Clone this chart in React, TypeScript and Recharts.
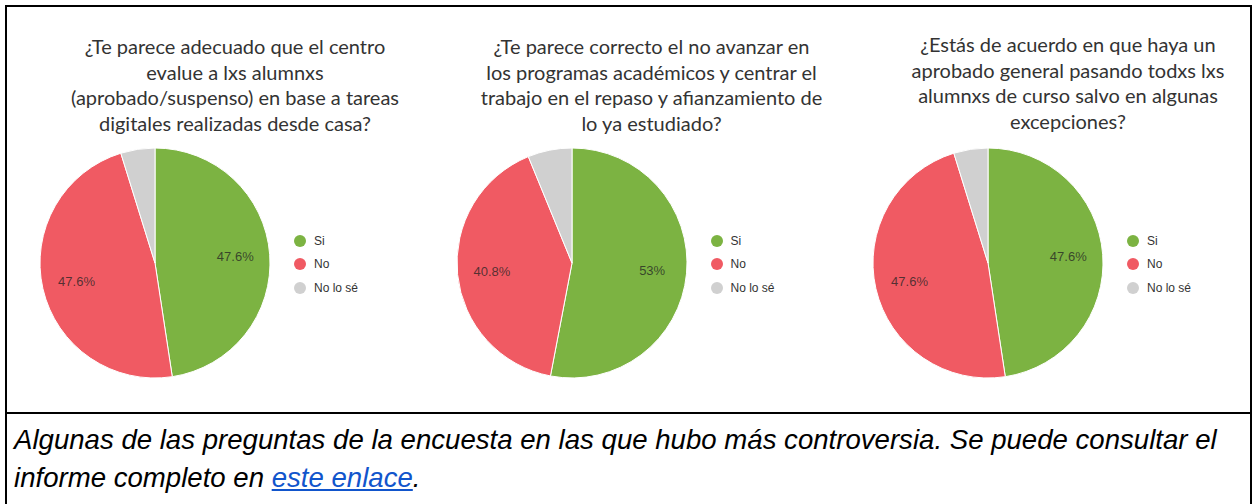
import React from "react";
import { PieChart, Pie, Cell, Legend } from "recharts";

const categories = ["Si", "No", "No lo sé"];
const colors = ["#7cb342", "#f05a63", "#d0d0d0"];

const q1Title = [
  "¿Te parece adecuado que el centro",
  "evalue a lxs alumnxs",
  "(aprobado/suspenso) en base a tareas",
  "digitales realizadas desde casa?",
];
const q1Values = [47.6, 47.6, 4.8];

const q2Title = [
  "¿Te parece correcto el no avanzar en",
  "los programas académicos y centrar el",
  "trabajo en el repaso y afianzamiento de",
  "lo ya estudiado?",
];
const q2Values = [53, 40.8, 6.2];

const q3Title = [
  "¿Estás de acuerdo en que haya un",
  "aprobado general pasando todxs lxs",
  "alumnxs de curso salvo en algunas",
  "excepciones?",
];
const q3Values = [47.6, 47.6, 4.8];

const captionLine1 =
  "Algunas de las preguntas de la encuesta en las que hubo más controversia. Se puede consultar el";
const captionLine2 = "informe completo en ";
const linkText = "este enlace";

const RAD = Math.PI / 180;

// percentage label inside the slice, like the google chart
const sliceLabel = (p: any) => {
  if (p.value < 10) return null;
  const r = p.outerRadius * 0.7;
  const x = p.cx + r * Math.cos(-p.midAngle * RAD);
  const y = p.cy + r * Math.sin(-p.midAngle * RAD);
  return (
    <text
      x={x}
      y={y}
      textAnchor="middle"
      dominantBaseline="central"
      fill="#222"
      fillOpacity={0.75}
      fontSize={13}
      fontFamily="Arial, 'Liberation Sans', sans-serif"
    >
      {p.value + "%"}
    </text>
  );
};

const legendContent = () => (
  <div style={{ fontFamily: "Arial, 'Liberation Sans', sans-serif", fontSize: 12, color: "#333" }}>
    {categories.map((c, i) => (
      <div key={c} style={{ display: "flex", alignItems: "center", height: 23.5 }}>
        <span
          style={{
            width: 12,
            height: 12,
            borderRadius: 6,
            background: colors[i],
            display: "inline-block",
            marginRight: 8,
          }}
        />
        {c}
      </div>
    ))}
  </div>
);

function SurveyPie({ title, values, left, titleTop }: { title: string[]; values: number[]; left: number; titleTop: number }) {
  const data = categories.map((name, i) => ({ name, value: values[i] }));
  return (
    <div style={{ position: "absolute", left, top: 8, width: 416, height: 400 }}>
      <div
        style={{
          position: "absolute",
          left: -20,
          width: 496,
          top: titleTop,
          textAlign: "center",
          fontFamily: "Lato, 'Open Sans', sans-serif",
          fontSize: 20,
          lineHeight: "25.5px",
          color: "#333",
          whiteSpace: "nowrap",
        }}
      >
        {title.map((t) => (
          <div key={t}>{t}</div>
        ))}
      </div>
      <PieChart width={416} height={400} margin={{ top: 0, right: 0, bottom: 0, left: 0 }}>
        <Pie
          data={data}
          dataKey="value"
          nameKey="name"
          cx={148}
          cy={255}
          outerRadius={115}
          startAngle={90}
          endAngle={-270}
          stroke="#fff"
          strokeWidth={1}
          label={sliceLabel}
          labelLine={false}
          isAnimationActive={false}
        >
          {data.map((d, i) => (
            <Cell key={d.name} fill={colors[i]} />
          ))}
        </Pie>
        <Legend
          content={legendContent}
          wrapperStyle={{ position: "absolute", left: 287, top: 221, width: 120 }}
        />
      </PieChart>
    </div>
  );
}

export default function App() {
  return (
    <div style={{ position: "absolute", left: 0, top: 0, width: 1253, height: 504, background: "#fff", overflow: "hidden" }}>
      <div
        style={{
          position: "absolute",
          left: 5,
          top: 5,
          width: 1247,
          height: 520,
          border: "2px solid #000",
          boxSizing: "border-box",
        }}
      />
      <div style={{ position: "absolute", left: 5, top: 412, width: 1247, height: 2, background: "#000" }} />
      <SurveyPie title={q1Title} values={q1Values} left={7} titleTop={26} />
      <SurveyPie title={q2Title} values={q2Values} left={423.5} titleTop={26} />
      <SurveyPie title={q3Title} values={q3Values} left={840} titleTop={24} />
      <div
        style={{
          position: "absolute",
          left: 14,
          top: 421,
          fontFamily: "Arial, 'Liberation Sans', sans-serif",
          fontStyle: "italic",
          fontSize: 27.6,
          lineHeight: "38px",
          color: "#000",
          whiteSpace: "nowrap",
        }}
      >
        <div>{captionLine1}</div>
        <div>
          {captionLine2}
          <a href="#" style={{ color: "#1155cc", textDecoration: "underline" }}>
            {linkText}
          </a>
          .
        </div>
      </div>
    </div>
  );
}
